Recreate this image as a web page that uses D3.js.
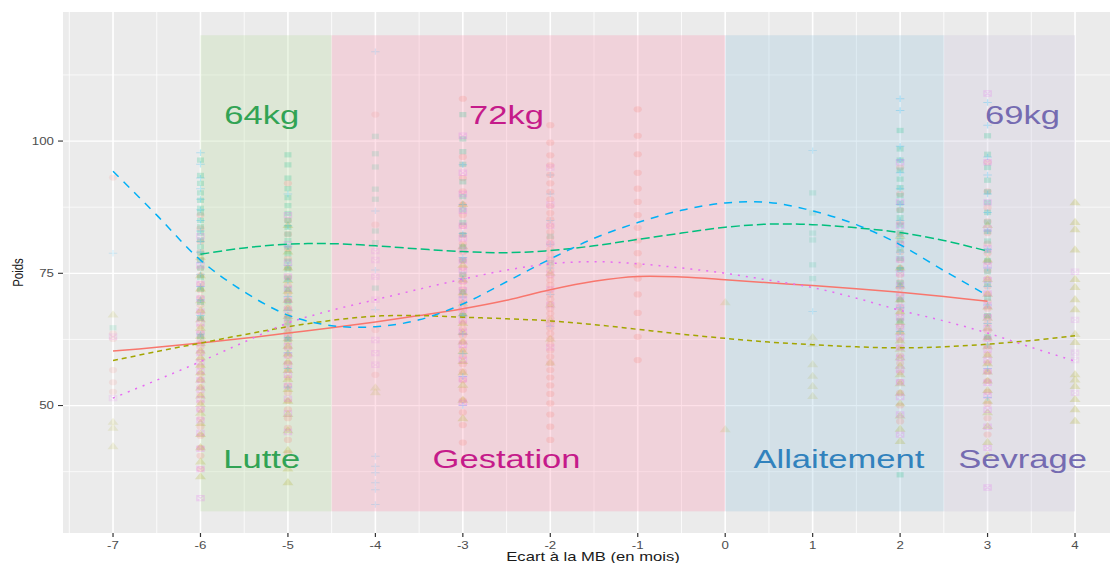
<!DOCTYPE html>
<html><head><meta charset="utf-8">
<script src="https://cdn.jsdelivr.net/npm/d3@7"></script>
<style>body{margin:0;background:#fff;} svg{display:block;font-family:"Liberation Sans",Arial,sans-serif;}</style>
</head><body>
<svg id="c" width="1110" height="563"></svg>
<script>
// ---------- data ----------
const xTicks = [-7,-6,-5,-4,-3,-2,-1,0,1,2,3,4];
const yTicks = [50,75,100];
const seriesNames = ["g1","g2","g3","g4","g5"];
const seriesColors = ["#F8766D","#A3A500","#00BF7D","#00B0F6","#E76BF3"];
const seriesDash = [null,"5,4","9,4","8,7","2,6"];
const seriesShape = ["circle","triangle","square","plus","boxx"];

const phases = ["Lutte","Gestation","Allaitement","Sevrage"];
const phaseStart = [-6,-4.5,0,2.5];
const phaseEnd = [-4.5,0,2.5,4];
const phaseFill = ["rgba(188,222,165,0.3)","rgba(252,152,178,0.3)","rgba(155,198,222,0.3)","rgba(205,198,222,0.3)"];
const phaseText = ["#31a354","#c51b8a","#3182bd","#756bb1"];
const phaseLabelX = [-5.3,-2.5,1.3,3.4];
const phaseWeights = ["64kg","72kg","","69kg"];

// loess smooth curves
const smooth1 = [[-7,60.3],[-6.5,61.0],[-6,61.8],[-5.5,62.7],[-5,63.7],[-4.5,64.7],[-4,65.8],[-3.5,67.0],[-3,68.3],[-2.5,69.9],[-2,71.9],[-1.5,73.5],[-1,74.4],[-0.5,74.3],[0,73.8],[0.5,73.2],[1,72.7],[1.5,72.1],[2,71.4],[2.5,70.6],[3,69.7]];
const smooth2 = [[-7,58.5],[-6.5,60.2],[-6,61.8],[-5.5,63.4],[-5,64.9],[-4.5,66.1],[-4,66.9],[-3.5,67.0],[-3,66.7],[-2.5,66.4],[-2,66.0],[-1.5,65.3],[-1,64.4],[-0.5,63.5],[0,62.7],[0.5,62.0],[1,61.5],[1.5,61.1],[2,60.9],[2.5,61.1],[3,61.6],[3.5,62.3],[4,63.2]];
const smooth3 = [[-6,78.6],[-5.5,79.8],[-5,80.5],[-4.5,80.6],[-4,80.2],[-3.5,79.6],[-3,79.1],[-2.5,78.9],[-2,79.3],[-1.5,80.2],[-1,81.4],[-0.5,82.6],[0,83.7],[0.5,84.3],[1,84.2],[1.5,83.6],[2,82.7],[2.5,81.2],[3,79.2]];
const smooth4 = [[-7,94.3],[-6.5,86.0],[-6,77.5],[-5.5,71.5],[-5,67.1],[-4.5,65.1],[-4,64.9],[-3.5,66.2],[-3,69.2],[-2.5,73.4],[-2,77.7],[-1.5,81.6],[-1,84.6],[-0.5,86.9],[0,88.3],[0.5,88.4],[1,86.8],[1.5,84.2],[2,80.4],[2.5,75.5],[3,70.8]];
const smooth5 = [[-7,51.4],[-6.5,54.8],[-6,58.3],[-5.5,62.0],[-5,65.6],[-4.5,68.0],[-4,70.0],[-3.5,72.0],[-3,73.9],[-2.5,75.6],[-2,76.8],[-1.5,77.2],[-1,76.8],[-0.5,76.0],[0,75.0],[0.5,73.7],[1,72.3],[1.5,70.3],[2,68.0],[2.5,66.0],[3,63.7],[3.5,61.0],[4,58.4]];

// raw weights per month offset
const pts1 = [
 [-7,[93.1,63.6,62.6,56.7,54.4,52.6]],
 [-6,[86,83.5,81,79,77.5,76,74.6,73,71.8,70.4,69,67.7,66.5,65,63.8,62.5,61,60,58.7,57.4,56,54.8,53.5,52,50.6,49.2,47.5,46,44.3,42,40.5,38]],
 [-5,[92,85,82.4,79.6,77.8,76,74.3,72.7,71.2,69.8,68.5,67,65.8,64.5,63.2,62,60.8,59.4,58,56.7,55.3,53.8,52.4,50.9,49.3,47.6,45.8,43.5,41]],
 [-4,[105,84.2,64.3,55.8]],
 [-3,[108,97,93,90.5,88,86,84,82.2,80.6,79,77.4,76,74.6,73.3,72,70.8,69.5,68.3,67,65.7,64.5,63.2,62,60.6,59.3,57.8,56.4,54.8,53,51,48.7,46.3,43]],
 [-2,[103,99.7,97.3,95.4,93.6,92,90.4,89,87.7,86.4,85.2,84,82.8,81.7,80.6,79.5,78.5,77.5,76.5,75.5,74.6,73.7,72.8,71.9,71,70.1,69.2,68.3,67.4,66.5,65.6,64.6,63.6,62.6,61.5,60.4,59.2,58,56.7,55.3,53.8,52.2,50.4,48.3,46,43.5]],
 [-1,[106,101,97.5,94,91,88.5,86,83.6,81.2,78.8,76.5,74,71,67.5,63,58.6]],
 [2,[95,90,87,84.6,82.5,80.7,79,77.5,76,74.7,73.4,72.2,71,69.8,68.6,67.4,66.2,65,63.7,62.4,61,59.5,58,56.3,54.5,52.4,50,47]],
 [3,[96,90.5,87.4,84.8,82.6,80.6,78.8,77.1,75.5,74,72.5,71.1,69.7,68.3,66.9,65.5,64.1,62.7,61.2,59.7,58.1,56.4,54.6,52.6,50.3,47.6,44.5]]
];
const pts2 = [
 [-7,[67.1,46.8,45.7,42.2]],
 [-6,[78,74.5,72,69.8,67.9,66.2,64.6,63.1,61.7,60.3,59,57.6,56.2,54.8,53.3,51.8,50.2,48.5,46.6,44.5,42,39.3,36.5]],
 [-5,[84,79,76,73.6,71.6,69.9,68.3,66.8,65.4,64,62.6,61.2,59.7,58.2,56.6,54.9,53,50.8,48.3,45.2,41.5,38,35.4]],
 [-4,[53.3,52.4]],
 [-3,[88,80,76.5,73.7,71.3,69.2,67.3,65.5,63.8,62,60.2,58.3,56.2,53.8,51,47.5]],
 [-2,[75,69,66,62.5,58]],
 [0,[69.4,45.4]],
 [1,[62.8,61.5,57.7,55.5,53.6,51.7]],
 [2,[82,76,72.6,70,67.7,65.7,63.9,62.2,60.6,59,57.4,55.8,54.1,52.3,50.3,48,45.5,43.2]],
 [3,[84,77.5,73.8,71,68.6,66.5,64.6,62.8,61.1,59.5,57.9,56.3,54.6,52.8,50.8,48.6,46,43,40.5]],
 [4,[88.3,84.6,83.2,79.4,73.8,72.3,70,68.1,63.4,61.9,55.8,54.8,53.6,51.1,49.2,47]]
];
const pts3 = [
 [-7,[64.7]],
 [-6,[96.4,93.5,92,90.2,88.8,87.3,86.4,85,83.8,82.6,81.3,80,78.8,77.5,76,74.2,72,69.5,66.5,63]],
 [-5,[97.4,95.5,93,91,89.3,87.8,86.3,85,83.7,82.4,81.2,80,78.7,77.3,75.8,74.1,72,69.6,66.5,62.5]],
 [-4,[100.9,97.6,95.1,90.9,89,83,80.8,72.2]],
 [-3,[105,100.4,98,95.6,92.3,89.5,87,84.6,82.3,80,77.5,74.8,71.5,67]],
 [-2,[82,77]],
 [1,[90.2,86.4,82.6,81.3,76.6,74]],
 [2,[102,98.5,96.4,94.5,92.8,91.2,89.7,88.3,86.9,85.5,84.1,82.7,81.2,79.6,77.8,75.7,73.2,70,66,36.9]],
 [3,[101,97.5,95,92.6,90.4,88.4,86.5,84.7,82.9,81.1,79.3,77.4,75.3,73,70.3,67,63]]
];
const pts4 = [
 [-7,[78.8]],
 [-6,[97.8,95.6,93,91,89,87,85,83,81,79,77,74.8,72.5,70,67,63.5]],
 [-5,[90,84,80,76.5,73.5,70.6,68,65.4,62.8,60,57,53.5]],
 [-4,[116.9,86.8,75.6,68.1,40.4,38.5,37.3,35.4,34.1,31.3]],
 [-3,[95.5,88,82.5,78,74,70.5,67,63.5,59.8,55.5,50]],
 [-2,[93.6,90,85,80.5,76,71,65]],
 [1,[98.2,67.8]],
 [2,[108,105.8,99,96.4,94,91,88,85,82,79,76,72.5,68.5,64]],
 [3,[107.3,103,97,93.6,90,86.5,83,79.5,76,72.5,69,65.5,61.5,57,51.5]]
];
const pts5 = [
 [-7,[63.0,51.4]],
 [-6,[82,76.5,73,70.2,67.8,65.6,63.6,61.7,59.9,58.2,56.5,54.8,53,51.2,49.3,47.2,44.8,41.8,38,32.5]],
 [-5,[86,80.5,77,74.4,72.1,70,68.1,66.3,64.6,62.9,61.2,59.5,57.7,55.8,53.7,51.3,48.5,45]],
 [-4,[79.2,77.5,74.4,70,62.4,59.9,57.7]],
 [-3,[101,94,90,86.8,84,81.6,79.4,77.4,75.5,73.6,71.8,70,68.1,66.1,63.9,61.5,58.6,55,50.5]],
 [-2,[95,88,84,80.6,77.6,74.8,72,69,65.5,61]],
 [2,[96,88.5,84,80.5,77.6,75,72.7,70.6,68.6,66.7,64.8,62.9,61,59,56.8,54.4,51.6,48.3,44.5]],
 [3,[109,96,88.4,83.5,79.7,76.5,73.7,71.2,68.9,66.7,64.6,62.6,60.6,58.6,56.5,54.3,51.9,49.2,46,42,34.5]],
 [4,[75.3,66.2,60,58.6,52.4]]
];
const smooths = [smooth1,smooth2,smooth3,smooth4,smooth5];
const points = [pts1,pts2,pts3,pts4,pts5];

// ---------- layout ----------
const W = 1110, H = 563;
const P = {l:63, r:1110, t:12, b:533};
const SX = 1.33; // horizontal text stretch seen in picture
const x = d3.scaleLinear().domain([-7.572,4.4]).range([P.l,P.r]);
const y = d3.scaleLinear().domain([25.9,124.4]).range([P.b,P.t]);

const svg = d3.select("#c");
svg.append("rect").attr("width",W).attr("height",H).attr("fill","#fff");
svg.append("rect").attr("x",P.l).attr("y",P.t).attr("width",P.r-P.l).attr("height",P.b-P.t).attr("fill","#EBEBEB");

const g = svg.append("g");
// grid
const xMinor = xTicks.map(v=>v-0.5).concat([4.5]).filter(v=>x(v)>P.l && x(v)<P.r);
const yMinor = [37.5,62.5,87.5,112.5];
g.selectAll(".xm").data(xMinor).join("line").attr("x1",d=>x(d)).attr("x2",d=>x(d)).attr("y1",P.t).attr("y2",P.b).attr("stroke","#fff").attr("stroke-width",0.8);
g.selectAll(".ym").data(yMinor).join("line").attr("y1",d=>y(d)).attr("y2",d=>y(d)).attr("x1",P.l).attr("x2",P.r).attr("stroke","#fff").attr("stroke-width",0.7);
g.selectAll(".xM").data(xTicks).join("line").attr("x1",d=>x(d)).attr("x2",d=>x(d)).attr("y1",P.t).attr("y2",P.b).attr("stroke","#fff").attr("stroke-width",1.6);
g.selectAll(".yM").data(yTicks).join("line").attr("y1",d=>y(d)).attr("y2",d=>y(d)).attr("x1",P.l).attr("x2",P.r).attr("stroke","#fff").attr("stroke-width",1.3);

// phase rectangles
svg.append("g").selectAll("rect").data(phases).join("rect")
  .attr("x",(d,i)=>x(phaseStart[i])).attr("width",(d,i)=>x(phaseEnd[i])-x(phaseStart[i]))
  .attr("y",y(120)).attr("height",y(30)-y(120)).attr("fill",(d,i)=>phaseFill[i]);

// points
const shapePath = {
  circle: d3.symbol(d3.symbolCircle,30)(),
  triangle: d3.symbol(d3.symbolTriangle,30)(),
  square: d3.symbol(d3.symbolSquare,28)(),
  plus: "M-3.2,0H3.2M0,-3.2V3.2",
  boxx: "M-2.7,-2.7H2.7V2.7H-2.7ZM-2.7,-2.7L2.7,2.7M2.7,-2.7L-2.7,2.7"
};
const pg = svg.append("g");
points.forEach((ser,si)=>{
  const flat = [];
  ser.forEach(([xv,vals])=>vals.forEach(v=>flat.push([xv,v,vals.length])));
  const sh = seriesShape[si];
  const filled = (sh==="circle"||sh==="triangle"||sh==="square");
  pg.append("g").selectAll("path").data(flat).join("path")
    .attr("transform",d=>`translate(${x(d[0])},${y(d[1])}) scale(${SX},1)`)
    .attr("d",shapePath[sh])
    .attr("fill",filled?seriesColors[si]:"none")
    .attr("fill-opacity",d=>d[2]>10?0.2:0.12)
    .attr("stroke",filled?"none":seriesColors[si])
    .attr("stroke-opacity",d=>d[2]>10?0.24:0.15)
    .attr("stroke-width",1);
});

// smooth lines
const line = d3.line().x(d=>x(d[0])).y(d=>y(d[1])).curve(d3.curveCatmullRom.alpha(0.5));
const lg = svg.append("g");
smooths.forEach((s,i)=>{
  lg.append("path").attr("d",line(s)).attr("fill","none").attr("stroke",seriesColors[i])
    .attr("stroke-width",1.5).attr("stroke-dasharray",seriesDash[i]);
});

// phase labels
const tg = svg.append("g");
function stretchText(sel,px,py,txt,size,color,anchor){
  sel.append("text").attr("transform",`translate(${px},${py}) scale(${SX},1)`)
    .attr("text-anchor",anchor||"middle").attr("font-size",size).attr("fill",color).text(txt);
}
phases.forEach((p,i)=>{
  stretchText(tg,x(phaseLabelX[i]),y(40)+9.3,p,26,phaseText[i]);
  if(phaseWeights[i]) stretchText(tg,x(phaseLabelX[i]),y(105)+9.3,phaseWeights[i],26,phaseText[i]);
});

// axes
const ax = svg.append("g");
xTicks.forEach(v=>{
  ax.append("line").attr("x1",x(v)).attr("x2",x(v)).attr("y1",P.b).attr("y2",P.b+4).attr("stroke","#333").attr("stroke-width",1.2);
  stretchText(ax,x(v),P.b+16,String(v),10,"#4D4D4D");
});
yTicks.forEach(v=>{
  ax.append("line").attr("x1",P.l-5).attr("x2",P.l).attr("y1",y(v)).attr("y2",y(v)).attr("stroke","#333").attr("stroke-width",1.1);
  stretchText(ax,P.l-9,y(v)+3.5,String(v),10,"#4D4D4D","end");
});
stretchText(ax,593,561,"Ecart à la MB (en mois)",12.5,"#1a1a1a");
ax.append("text").attr("transform",`translate(23,272.5) scale(${SX},1) rotate(-90)`)
  .attr("text-anchor","middle").attr("font-size",11.5).attr("fill","#1a1a1a").text("Poids");
</script>
</body></html>
